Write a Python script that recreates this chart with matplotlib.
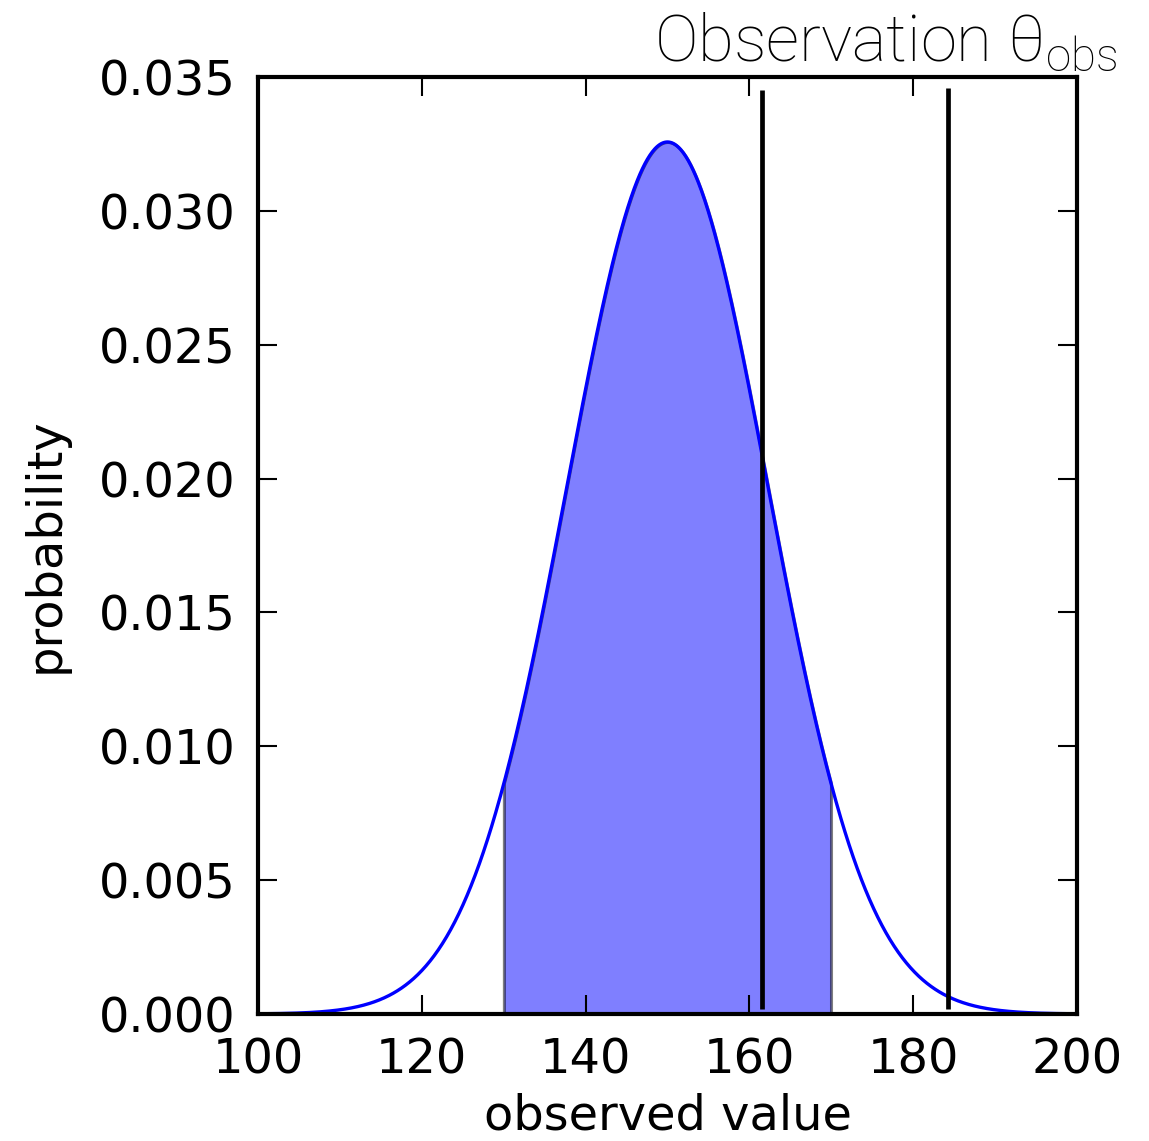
import numpy as np
import matplotlib
matplotlib.use("Agg")
import matplotlib.pyplot as plt

# distribution parameters
mean = 150.0
sigma = np.sqrt(150.0)
shade_lo, shade_hi = 130, 170
obs_lines = [161.5, 184.3]
obs_top = [0.0345, 0.0346]

xticks = [100, 120, 140, 160, 180, 200]
yticks = [0.000, 0.005, 0.010, 0.015, 0.020, 0.025, 0.030, 0.035]

x = np.linspace(100, 200, 1000)
pdf = np.exp(-0.5 * ((x - mean) / sigma) ** 2) / (sigma * np.sqrt(2 * np.pi))

fig = plt.figure(figsize=(11.49, 11.41), dpi=100)
ax = fig.add_axes([0.2245, 0.1113, 0.7128, 0.8212])

# shaded central region
mask = (x >= shade_lo) & (x <= shade_hi)
ax.fill_between(x[mask], 0, pdf[mask], facecolor="blue", edgecolor="black",
                alpha=0.5, linewidth=2.2)
ax.plot(x, pdf, color="blue", linewidth=2.4)

# observation lines
for xo, top in zip(obs_lines, obs_top):
    ax.plot([xo, xo], [0.0002, top], color="black", linewidth=3.4,
            solid_capstyle="butt")

ax.set_xlim(100, 200)
ax.set_ylim(0, 0.035)
ax.set_xticks(xticks)
ax.set_yticks(yticks)
ax.set_xticklabels([str(t) for t in xticks])
ax.set_yticklabels(["%.3f" % t for t in yticks])

ax.tick_params(direction="in", length=14, width=1.5, labelsize=34.5,
               top=True, right=True, pad=16)
for s in ax.spines.values():
    s.set_linewidth(3)

ax.set_xlabel("observed value", fontsize=34.5, labelpad=7)
ax.set_ylabel("probability", fontsize=34.5, labelpad=22)

fig.text(0.973, 0.963, r"Observation θ$_{\mathregular{obs}}$", ha="right",
         va="center", fontsize=47, family="Roboto", fontweight="light")

fig.savefig("out.png", dpi=100)
